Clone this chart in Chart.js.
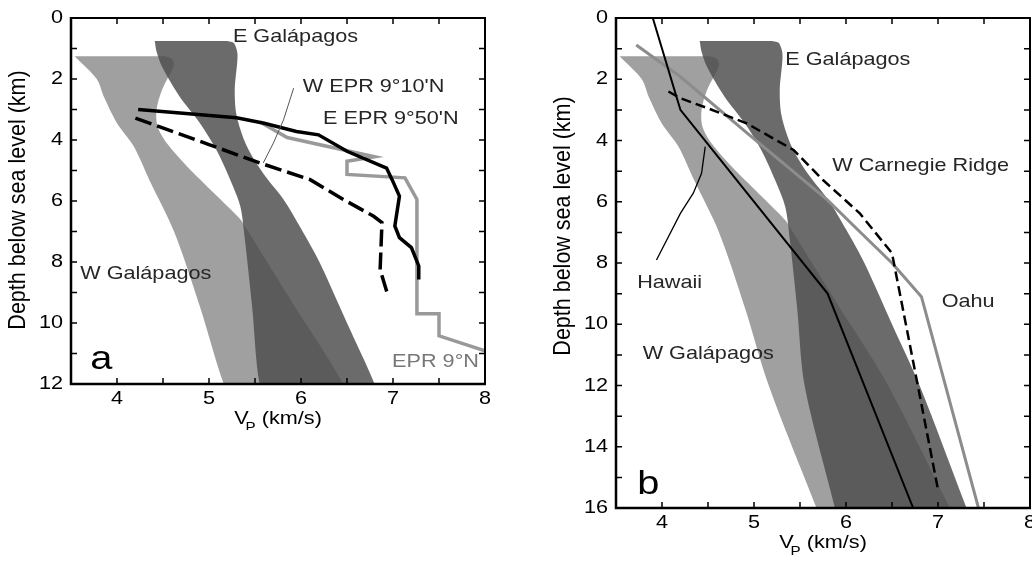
<!DOCTYPE html>
<html>
<head>
<meta charset="utf-8">
<script src="https://cdn.jsdelivr.net/npm/chart.js@4.4.0/dist/chart.umd.min.js"></script>
<style>
  html, body { margin: 0; padding: 0; background: #fff; }
  body { width: 1032px; height: 565px; position: relative; overflow: hidden; }
  .panel { position: absolute; top: 0; }
  #wrapA { left: 0; width: 520px; height: 430px; }
  #wrapB { left: 520px; width: 512px; height: 565px; }
</style>
</head>
<body>
<div id="wrapA" class="panel"><canvas id="chartA" width="520" height="430"></canvas></div>
<div id="wrapB" class="panel"><canvas id="chartB" width="512" height="565"></canvas></div>
<script>
// ─── data (Vp in km/s, depth in km) ───
const xTickLabels  = [4, 5, 6, 7, 8];
const yTickLabelsA = [0, 2, 4, 6, 8, 10, 12];
const yTickLabelsB = [0, 2, 4, 6, 8, 10, 12, 14, 16];

// W Galápagos envelope (light band)
const wGalLeftV  = [3.54, 3.78, 3.86, 4.0, 4.18, 4.35, 4.62, 4.9, 5.16, 5.68];
const wGalLeftZ  = [1.25, 2.0, 2.6, 3.45, 4.2, 5.3, 7.0, 9.45, 12, 16];
const wGalRightV = [4.52, 4.59, 4.62, 4.6, 4.49, 4.43, 4.44, 4.54, 4.76, 5.05, 5.34, 5.41, 5.92, 6.44, 7.13];
const wGalRightZ = [1.25, 1.32, 1.5, 1.7, 2.35, 3.0, 3.55, 4.1, 4.86, 5.73, 6.6, 6.93, 9.4, 11.9, 16];

// E Galápagos envelope (dark band)
const eGalLeftV  = [4.41, 4.43, 4.49, 4.68, 4.9, 5.08, 5.23, 5.34, 5.39, 5.47, 5.55, 5.88];
const eGalLeftZ  = [0.75, 1.1, 1.6, 2.57, 3.44, 4.32, 5.3, 6.17, 7.26, 9.5, 12, 16];
const eGalRightV = [5.2, 5.27, 5.31, 5.28, 5.3, 5.41, 5.59, 5.81, 6.0, 6.2, 6.5, 6.8, 7.31];
const eGalRightZ = [0.75, 0.82, 1.2, 2.35, 3.2, 4.2, 5.1, 5.95, 6.9, 8.0, 10, 12, 16];

// panel a profiles
const epr950V = [4.23, 5.3, 5.6, 5.95, 6.19, 6.5, 6.93, 6.99, 7.07, 7.02, 7.07, 7.2, 7.28, 7.28];
const epr950Z = [3.0, 3.27, 3.45, 3.72, 3.83, 4.37, 4.92, 5.3, 5.84, 6.82, 7.2, 7.53, 8.13, 8.57];
const epr910V = [4.2, 5.0, 5.55, 5.77, 6.1, 6.46, 6.79, 6.88, 6.87, 6.86, 6.95];
const epr910Z = [3.28, 4.15, 4.75, 4.97, 5.3, 5.95, 6.5, 6.71, 7.5, 8.25, 9.15];
const epr9V   = [5.55, 5.72, 5.85, 6.8, 6.5, 6.5, 7.13, 7.26, 7.26, 7.5, 7.5, 8.0, 8.3];
const epr9Z   = [3.4, 3.7, 3.92, 4.55, 4.7, 5.13, 5.24, 5.95, 9.7, 9.7, 10.42, 10.91, 11.2];

// panel b profiles
const hawaiiV   = [3.9, 4.2, 5.8, 6.73];
const hawaiiZ   = [0, 3.0, 9.0, 16];
const oahuV     = [3.72, 4.2, 5.0, 5.8, 6.15, 6.5, 6.82, 7.44];
const oahuZ     = [0.88, 1.92, 3.95, 5.95, 6.98, 8.0, 9.1, 16];
const carnegieV = [4.07, 4.2, 4.5, 4.92, 5.43, 5.75, 6.15, 6.5, 6.8, 7.0];
const carnegieZ = [2.4, 2.62, 2.95, 3.44, 4.31, 5.29, 6.38, 7.68, 12.3, 15.4];

// leader lines
const leadAV = [5.92, 5.81, 5.70, 5.59];
const leadAZ = [2.30, 3.34, 4.10, 4.75];
const leadBV = [4.47, 4.43, 4.34, 4.2, 3.94];
const leadBZ = [4.2, 5.07, 5.72, 6.38, 7.9];

// ─── helpers ───
const pts = (vs, zs) => vs.map((v, i) => ({ x: v, y: zs[i] }));
// outline: left edge down, right edge back up; bottom corners doubled so the spline keeps them sharp
const band = (lv, lz, rv, rz) => {
    const L = pts(lv, lz), R = pts(rv, rz).reverse();
    return [...L, L[L.length - 1], R[0], ...R];
};

const FONT = '"Liberation Sans", Arial, Helvetica, sans-serif';
const SX = 1.17;   // the figure text is a bit wide

function txt(ctx, s, x, y, size, align, base, color) {
    ctx.save();
    ctx.font = size + 'px ' + FONT;
    ctx.fillStyle = color || '#000';
    ctx.textAlign = align;
    ctx.textBaseline = base;
    ctx.translate(x, y);
    ctx.scale(SX, 1);
    ctx.fillText(s, 0, 0);
    ctx.restore();
}

const lineDs = (data, color, width, dash) => ({
    type: 'line', data, borderColor: color, borderWidth: width, borderDash: dash || [],
    pointRadius: 0, fill: false, tension: 0, clip: 0, order: 1
});
const bandDs = (data, color, order) => ({
    type: 'line', data, backgroundColor: color, borderWidth: 0, borderColor: 'rgba(0,0,0,0)',
    pointRadius: 0, fill: 'shape', tension: 0.3, capBezierPoints: false, order
});

// ─── frame, ticks, texts ───
const decor = {
    id: 'decor',
    afterDraw(chart, args, o) {
        const { ctx, chartArea: a, scales: { x, y } } = chart;
        ctx.save();
        ctx.strokeStyle = '#000';
        ctx.lineWidth = 1.5;
        ctx.beginPath();
        x.ticks.forEach(t => {
            const px = x.getPixelForValue(t.value);
            ctx.moveTo(px, a.bottom); ctx.lineTo(px, a.bottom - 6);
            ctx.moveTo(px, a.top); ctx.lineTo(px, a.top + 6);
        });
        y.ticks.forEach(t => {
            const py = y.getPixelForValue(t.value);
            ctx.moveTo(a.left, py); ctx.lineTo(a.left + 6, py);
            ctx.moveTo(a.right, py); ctx.lineTo(a.right - 6, py);
        });
        ctx.stroke();
        ctx.lineWidth = 2;
        ctx.beginPath();
        ctx.moveTo(a.left, a.top); ctx.lineTo(a.right, a.top); ctx.lineTo(a.right, a.bottom);
        ctx.stroke();
        ctx.lineWidth = 2.5;
        ctx.beginPath();
        ctx.moveTo(a.left, a.top - 1); ctx.lineTo(a.left, a.bottom); ctx.lineTo(a.right + 1, a.bottom);
        ctx.stroke();

        // leader line
        ctx.strokeStyle = o.leadColor;
        ctx.lineWidth = o.leadWidth;
        ctx.beginPath();
        o.lead.forEach((p, i) => {
            const px = x.getPixelForValue(p.x), py = y.getPixelForValue(p.y);
            i ? ctx.lineTo(px, py) : ctx.moveTo(px, py);
        });
        ctx.stroke();
        ctx.restore();

        // tick labels
        xTickLabels.forEach(v => txt(ctx, String(v), x.getPixelForValue(v), a.bottom + 6, 18.5, 'center', 'top'));
        o.yLabels.forEach(v => txt(ctx, String(v), a.left - 8, y.getPixelForValue(v), 18.5, 'right', 'middle'));

        // axis titles
        ctx.save();
        ctx.font = '21.5px ' + FONT;
        ctx.fillStyle = '#000';
        ctx.translate(a.left - 52, o.yTitleAt);
        ctx.scale(1.08, 1);
        ctx.rotate(-Math.PI / 2);
        ctx.textAlign = 'center';
        ctx.textBaseline = 'middle';
        ctx.fillText('Depth below sea level (km)', 0, 0);
        ctx.restore();

        ctx.save();
        ctx.font = '18.5px ' + FONT;
        const wV = ctx.measureText('V').width * SX;
        const wR = ctx.measureText(' (km/s)').width * SX;
        ctx.font = '13px ' + FONT;
        const wP = ctx.measureText('P').width * SX;
        ctx.restore();
        const total = wV + wP - 3 + wR;
        const x0 = (a.left + a.right) / 2 - total / 2;
        const base = a.bottom + 40;
        txt(ctx, 'V', x0, base, 18.5, 'left', 'alphabetic');
        txt(ctx, 'P', x0 + wV - 3, base + 7, 13, 'left', 'alphabetic');
        txt(ctx, ' (km/s)', x0 + wV + wP - 3, base, 18.5, 'left', 'alphabetic');

        // in-plot labels
        o.notes.forEach(n => txt(ctx, n.t, x.getPixelForValue(n.v), y.getPixelForValue(n.d),
            n.size || 18.5, 'left', n.base || 'middle', n.c || '#262626'));
    }
};

function makeChart(id, maxDepth, W, H, left, right, bottom, sets, extra) {
    return new Chart(document.getElementById(id), {
        type: 'line',
        data: { datasets: sets },
        options: {
            responsive: false,
            animation: false,
            devicePixelRatio: 1,
            layout: { padding: { left: 0, top: 18, right: W - right, bottom: 0 } },
            plugins: { legend: { display: false }, tooltip: { enabled: false }, decor: extra },
            scales: {
                x: {
                    type: 'linear', min: 3.5, max: 8,
                    ticks: { display: false, stepSize: 0.5 },
                    grid: { display: false }, border: { display: false },
                    afterFit: s => { s.height = H - bottom; s.paddingLeft = 0; s.paddingRight = 0; }
                },
                y: {
                    type: 'linear', min: 0, max: maxDepth, reverse: true,
                    ticks: { display: false, stepSize: 1 },
                    grid: { display: false }, border: { display: false },
                    afterFit: s => { s.width = left; s.paddingTop = 0; s.paddingBottom = 0; }
                }
            }
        },
        plugins: [decor]
    });
}

const LIGHT = '#a0a0a0';
const DARK = 'rgba(77,77,77,0.83)';

makeChart('chartA', 12, 520, 430, 71, 485, 384, [
    lineDs(pts(epr950V, epr950Z), '#000', 3.5),
    lineDs(pts(epr910V, epr910Z), '#000', 3.5, [17, 6]),
    lineDs(pts(epr9V, epr9Z), '#999', 3.5),
    bandDs(band(eGalLeftV, eGalLeftZ, eGalRightV, eGalRightZ), DARK, 2),
    bandDs(band(wGalLeftV, wGalLeftZ, wGalRightV, wGalRightZ), LIGHT, 3)
], {
    yLabels: yTickLabelsA, yTitleAt: 200,
    lead: pts(leadAV, leadAZ), leadColor: '#555', leadWidth: 1,
    notes: [
        { t: 'E Galápagos', v: 5.26, d: 0.62 },
        { t: "W EPR 9°10'N", v: 6.02, d: 2.26 },
        { t: "E EPR 9°50'N", v: 6.24, d: 3.30 },
        { t: 'W Galápagos', v: 3.6, d: 8.4 },
        { t: 'EPR 9°N', v: 6.99, d: 11.28, c: '#777' },
        { t: 'a', v: 3.71, d: 11.5, size: 34, base: 'alphabetic', c: '#000' }
    ]
});

makeChart('chartB', 16, 512, 565, 96, 510, 508, [
    lineDs(pts(hawaiiV, hawaiiZ), '#000', 2),
    lineDs(pts(carnegieV, carnegieZ), '#000', 2.5, [10, 5]),
    lineDs(pts(oahuV, oahuZ), '#8c8c8c', 3),
    bandDs(band(eGalLeftV, eGalLeftZ, eGalRightV, eGalRightZ), DARK, 2),
    bandDs(band(wGalLeftV, wGalLeftZ, wGalRightV, wGalRightZ), LIGHT, 3)
], {
    yLabels: yTickLabelsB, yTitleAt: 226,
    lead: pts(leadBV, leadBZ), leadColor: '#000', leadWidth: 1.3,
    notes: [
        { t: 'E Galápagos', v: 5.34, d: 1.37 },
        { t: 'W Carnegie Ridge', v: 5.85, d: 4.83 },
        { t: 'Oahu', v: 7.04, d: 9.27 },
        { t: 'Hawaii', v: 3.73, d: 8.65 },
        { t: 'W Galápagos', v: 3.79, d: 10.97 },
        { t: 'b', v: 3.73, d: 15.55, size: 34, base: 'alphabetic', c: '#000' }
    ]
});
</script>
</body>
</html>
